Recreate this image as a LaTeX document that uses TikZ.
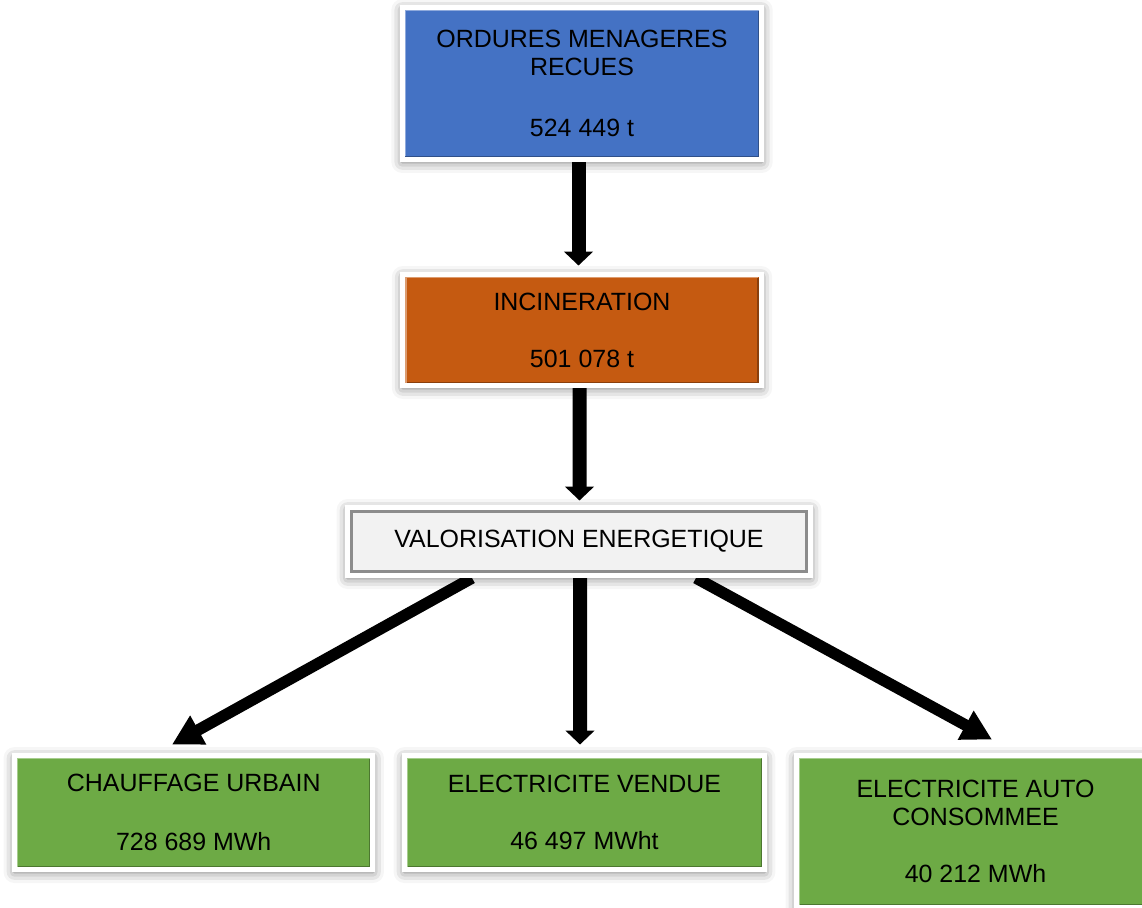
\documentclass[tikz,border=0pt]{standalone}
\usepackage{fontspec}
\setmainfont{Liberation Sans}
\usetikzlibrary{arrows.meta}
\usetikzlibrary{backgrounds}
\usetikzlibrary{shadows.blur}

\definecolor{ordureBlue}{HTML}{4472C4}
\definecolor{incinOrange}{HTML}{C55A11}
\definecolor{energyGreen}{HTML}{6DAA45}
\definecolor{valorGrey}{HTML}{F2F2F2}

\newcommand{\boxfont}{\fontsize{14.2pt}{15.9pt}\selectfont}

\begin{document}
\begin{tikzpicture}[x=0.02cm, y=-0.02cm,
	box/.style={rectangle, fill=#1, draw=white, line width=0.1cm, inner sep=0pt,
		align=center, font=\boxfont,
		blur shadow={shadow xshift=0pt, shadow yshift=-0.05cm, shadow blur radius=0.22cm, shadow opacity=55},
		path picture={
			\draw[line width=0.9pt, #1!70!black] ([shift={(0.06cm,0.06cm)}]path picture bounding box.south west) -| ([shift={(-0.06cm,-0.06cm)}]path picture bounding box.north east);
			\draw[line width=0.9pt, #1!60!white] ([shift={(0.06cm,0.06cm)}]path picture bounding box.south west) |- ([shift={(-0.06cm,-0.06cm)}]path picture bounding box.north east);
		}},
	valorbox/.style={box=valorGrey,
		path picture={
			\draw[line width=1.3pt, black!45] ([shift={(0.08cm,0.08cm)}]path picture bounding box.south west) rectangle ([shift={(-0.08cm,-0.08cm)}]path picture bounding box.north east);
		}},
	downflow/.style={line width=0.28cm, -{Triangle[width=0.57cm, length=0.28cm]}},
	sideflow/.style={line width=0.23cm, -{Triangle[width=0.62cm, length=0.6cm]}}]

% Page frame.

	\useasboundingbox (0,0) rectangle (1142,907);
	\clip (0,0) rectangle (1142,907);

% Draw boxes.

	\node[box=ordureBlue, minimum width=7.19cm, minimum height=3.04cm] (ordures) at (582, 83.5)
		{ORDURES MENAGERES\\RECUES\\[19pt]524 449 t};
	\node[box=incinOrange, minimum width=7.17cm, minimum height=2.22cm] (incineration) at (582, 330)
		{INCINERATION\\[16.5pt]501 078 t};
	\node[valorbox, minimum width=9.26cm, minimum height=1.36cm] (valorisation) at (579, 541.5)
		{VALORISATION ENERGETIQUE};

	\node[box=energyGreen, minimum width=7.17cm, minimum height=2.28cm] (chauffage) at (193.75, 812.5)
		{CHAUFFAGE URBAIN\\[17.7pt]728 689 MWh};
	\node[box=energyGreen, minimum width=7.2cm, minimum height=2.28cm] (vendue) at (584.5, 812.5)
		{ELECTRICITE VENDUE\\[16.5pt]46 497 MWht};
	\node[box=energyGreen, minimum width=7.16cm, minimum height=3.04cm] (autoconso) at (975.5, 831.5)
		{ELECTRICITE AUTO\\CONSOMMEE\\[17pt]40 212 MWh};

% Draw arrows.

	\begin{scope}[on background layer]
		\draw[downflow] ([xshift=-0.07cm]ordures.south) -- ([xshift=-0.07cm, yshift=0.13cm]incineration.north);
		\draw[downflow] ([xshift=-0.05cm]incineration.south) -- ([xshift=0.01cm, yshift=0.09cm]valorisation.north);

		\draw[sideflow] ([xshift=-2.14cm]valorisation.south) -- ([xshift=-0.435cm, yshift=0.17cm]chauffage.north);
		\draw[downflow] ([xshift=0.02cm]valorisation.south) -- ([xshift=-0.09cm, yshift=0.17cm]vendue.north);
		\draw[sideflow] ([xshift=2.34cm]valorisation.south) -- ([xshift=0.33cm, yshift=0.27cm]autoconso.north);
	\end{scope}

\end{tikzpicture}
\end{document}
